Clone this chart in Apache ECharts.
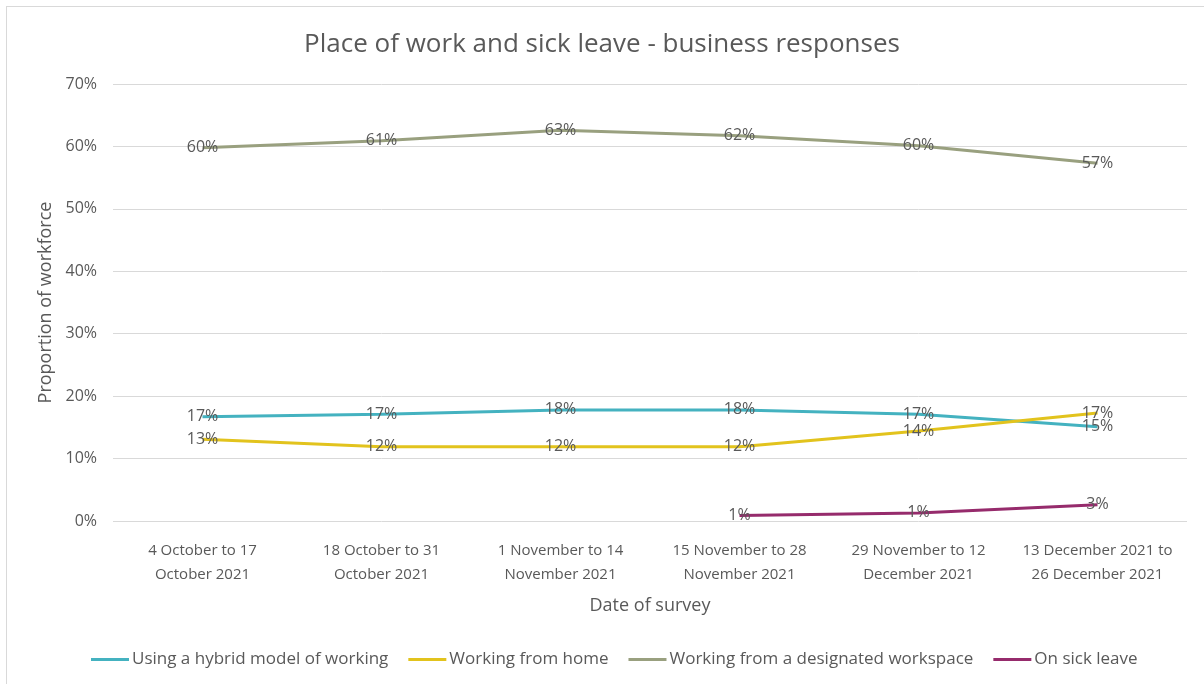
<!DOCTYPE html>
<html>
<head>
<meta charset="utf-8">
<title>Place of work and sick leave</title>
<script src="https://cdn.jsdelivr.net/npm/echarts@6/dist/echarts.min.js"></script>
<style>
  html, body { margin: 0; padding: 0; background: #fff; }
  #chart { position: absolute; left: 0; top: 0; width: 1204px; height: 684px; }
  .frame { position: absolute; left: 6px; top: 6px; width: 1210px; height: 690px; border: 1px solid #d9d9d9; pointer-events: none; }
</style>
</head>
<body>
<div id="chart"></div>
<div class="frame"></div>
<script>
// survey periods
const categories = [
  '4 October to 17\nOctober 2021',
  '18 October to 31\nOctober 2021',
  '1 November to 14\nNovember 2021',
  '15 November to 28\nNovember 2021',
  '29 November to 12\nDecember 2021',
  '13 December 2021 to\n26 December 2021'
]

// proportion of workforce (%)
const hybrid = [16.7, 17.1, 17.8, 17.8, 17.1, 15.1]
const home = [13.1, 11.9, 11.9, 11.9, 14.4, 17.3]
const workspace = [59.8, 60.9, 62.6, 61.7, 60.1, 57.3]
const sickLeave = [null, null, null, 0.9, 1.3, 2.6]

const yTicks = [0, 10, 20, 30, 40, 50, 60, 70]

const textColor = '#595959'
const font = '"Open Sans", "Noto Sans", sans-serif'

// 每条线：不画点，但保留标签（标签挂在 symbol 上）
const makeSeries = (name, data, color) => ({
  name,
  type: 'line',
  data,
  symbol: 'circle',
  symbolSize: 0.1,
  showSymbol: true,
  connectNulls: false,
  lineStyle: { width: 3, color },
  itemStyle: { color },
  label: {
    show: true,
    position: 'inside',
    offset: [0, 2],
    color: textColor,
    fontFamily: font,
    fontSize: 16,
    formatter: (p) => Math.round(p.value) + '%'
  },
  labelLayout: { hideOverlap: false }
})

const chart = echarts.init(document.getElementById('chart'))
chart.setOption({
  animation: false,
  title: {
    text: 'Place of work and sick leave - business responses',
    left: 'center',
    top: 27,
    textStyle: { color: textColor, fontFamily: font, fontSize: 26, fontWeight: 'normal' }
  },
  grid: { left: 113, right: 17, top: 84, bottom: 163 },
  legend: {
    bottom: 11,
    left: 86,
    icon: 'rect',
    itemWidth: 38,
    itemHeight: 3,
    itemGap: 20,
    textStyle: { color: textColor, fontFamily: font, fontSize: 17, padding: [0, 0, 0, -2] }
  },
  xAxis: {
    type: 'category',
    data: categories,
    name: 'Date of survey',
    nameLocation: 'middle',
    nameGap: 76,
    nameTextStyle: { color: textColor, fontFamily: font, fontSize: 18 },
    axisLine: { show: false },
    axisTick: { show: false },
    axisLabel: {
      color: textColor,
      fontFamily: font,
      fontSize: 15,
      lineHeight: 24,
      margin: 18,
      interval: 0
    }
  },
  yAxis: {
    type: 'value',
    min: yTicks[0],
    max: yTicks[yTicks.length - 1],
    interval: 10,
    name: 'Proportion of workforce',
    nameLocation: 'middle',
    nameGap: 58,
    nameTextStyle: { color: textColor, fontFamily: font, fontSize: 18 },
    axisLabel: { formatter: '{value}%', color: textColor, fontFamily: font, fontSize: 16, margin: 16 },
    splitLine: { lineStyle: { color: '#d9d9d9', width: 1 } }
  },
  series: [
    makeSeries('Using a hybrid model of working', hybrid, '#44b2c0'),
    makeSeries('Working from home', home, '#e2c31d'),
    makeSeries('Working from a designated workspace', workspace, '#99a07f'),
    makeSeries('On sick leave', sickLeave, '#962b6c')
  ]
})
</script>
</body>
</html>
